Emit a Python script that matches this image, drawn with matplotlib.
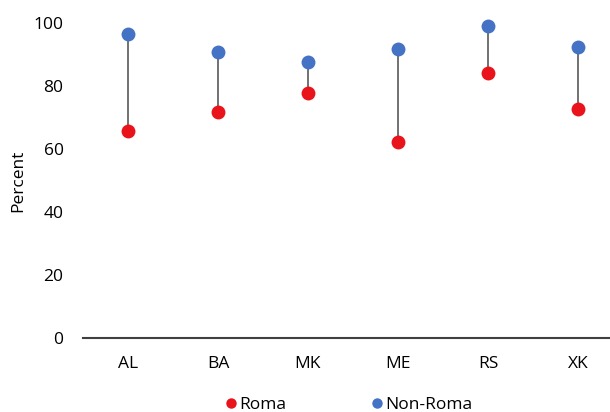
import matplotlib
matplotlib.use("Agg")
import matplotlib.pyplot as plt
import numpy as np

countries = ["AL", "BA", "MK", "ME", "RS", "XK"]
roma = [65.8, 71.7, 77.9, 62.3, 84.2, 72.8]
non_roma = [96.4, 90.7, 87.5, 91.7, 98.9, 92.5]

plt.rcParams["font.family"] = ["Open Sans", "DejaVu Sans"]

fig = plt.figure(figsize=(6.10, 4.12), dpi=100)
ax = fig.add_axes([83 / 610, 74 / 412, 527 / 610, 315 / 412])

x = np.arange(len(countries))
ax.vlines(x, roma, non_roma, color="#595959", lw=1.2, zorder=1)
ax.plot(x, roma, "o", color="#E8131B", ms=10, mec="none", label="Roma", zorder=3, clip_on=False)
ax.plot(x, non_roma, "o", color="#4472C4", ms=10, mec="none", label="Non-Roma", zorder=3, clip_on=False)

ax.set_xlim(-0.5, -0.5 + 527 / 90)
ax.set_ylim(0, 100)
ax.set_yticks(range(0, 101, 20))
ax.set_xticks(x)
ax.set_xticklabels(countries)
ax.tick_params(length=0, labelsize=12.5, colors="#000000")
ax.tick_params(axis="y", pad=14)
ax.tick_params(axis="x", pad=13)
for s in ["top", "right", "left"]:
    ax.spines[s].set_visible(False)
ax.spines["bottom"].set_color("#404040")
ax.spines["bottom"].set_linewidth(1.5)
ax.set_ylabel("Percent", fontsize=12.5)
ax.yaxis.set_label_coords(-57 / 527, 0.5)

fig.legend(loc="lower center", bbox_to_anchor=(0.572, -0.04), ncol=2, frameon=False,
           fontsize=12.5, handlelength=0.6, handletextpad=0.2, columnspacing=4.9,
           markerscale=0.75)

fig.savefig("out.png", dpi=100)
